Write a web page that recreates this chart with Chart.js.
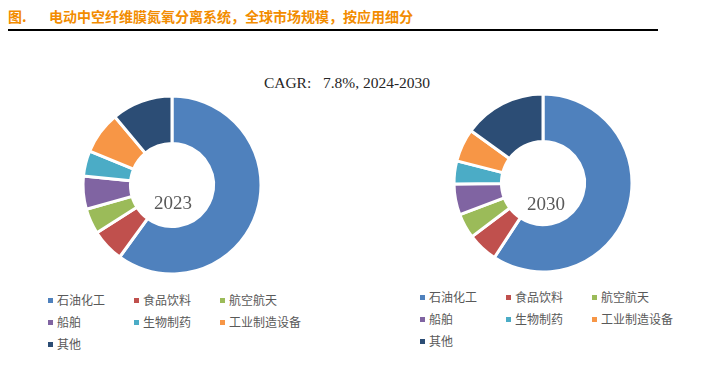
<!DOCTYPE html>
<html>
<head>
<meta charset="utf-8">
<script src="https://cdn.jsdelivr.net/npm/chart.js@4"></script>
<style>
  body { margin: 0; width: 701px; height: 369px; background: #fff; position: relative; overflow: hidden; }
  .abs { position: absolute; }
  #title { left: 8px; top: 7px; font: bold 14px "Noto Sans CJK SC", sans-serif; color: #F28C00; white-space: pre; line-height: 18px; }
  #title .fig { display: inline-block; width: 41px; }
  #rule { left: 8px; top: 29px; width: 650px; height: 0; border-top: 2px solid #000; }
  #cagr { left: 0; width: 694px; top: 74px; text-align: center; font: 15.5px "Liberation Serif", serif; color: #262626; white-space: pre; }
  .year { width: 80px; text-align: center; font: 19px "Liberation Serif", serif; color: #595959; line-height: 22px; }
  .legend { display: grid; grid-template-columns: 86px 86px 100px; row-gap: 0; }
  .legend div { height: 22px; line-height: 22px; font: 12px "Noto Sans CJK SC", sans-serif; color: #595959; white-space: nowrap; }
  .legend span { display: inline-block; width: 5px; height: 5px; margin-right: 4px; vertical-align: middle; position: relative; top: -1px; }
</style>
</head>
<body>
<div id="title" class="abs"><span class="fig">图.</span>电动中空纤维膜氮氧分离系统，全球市场规模，按应用细分</div>
<div id="rule" class="abs"></div>
<div id="cagr" class="abs">CAGR:   7.8%, 2024-2030</div>

<canvas id="c2023" class="abs" width="200" height="200" style="left:72px;top:85px;width:200px;height:200px"></canvas>
<canvas id="c2030" class="abs" width="200" height="200" style="left:443px;top:83px;width:200px;height:200px"></canvas>
<div class="abs year" style="left:133px;top:192px">2023</div>
<div class="abs year" style="left:506px;top:193px">2030</div>
<div id="leg2023" class="abs legend" style="left:48px;top:291px"></div>
<div id="leg2030" class="abs legend" style="left:420px;top:288px"></div>

<script>
const categories = ['石油化工', '食品饮料', '航空航天', '船舶', '生物制药', '工业制造设备', '其他'];
const share2023 = [60.0, 6.0, 4.6, 6.0, 4.6, 7.7, 11.1];
const share2030 = [59.2, 5.5, 4.5, 5.6, 4.2, 6.0, 15.0];
const colors = ['#4F81BD', '#C0504D', '#9BBB59', '#8064A2', '#4BACC6', '#F79646', '#2C4D75'];

function makeDonut(id, values, legendId) {
  const chart = new Chart(document.getElementById(id), {
    type: 'doughnut',
    data: {
      labels: categories,
      datasets: [{
        data: values,
        backgroundColor: colors,
        borderColor: '#fff',
        borderWidth: 3
      }]
    },
    options: {
      responsive: false,
      animation: false,
      radius: 89,
      cutout: 46,
      layout: { padding: 0 },
      plugins: { legend: { display: false }, tooltip: { enabled: false } }
    }
  });

  // html legend from the chart's own legend items
  const items = Chart.overrides.doughnut.plugins.legend.labels.generateLabels(chart);
  const box = document.getElementById(legendId);
  items.forEach(it => {
    const d = document.createElement('div');
    const sw = document.createElement('span');
    sw.style.background = it.fillStyle;
    d.appendChild(sw);
    d.appendChild(document.createTextNode(it.text));
    box.appendChild(d);
  });
  return chart;
}

makeDonut('c2023', share2023, 'leg2023');
makeDonut('c2030', share2030, 'leg2030');
</script>
</body>
</html>
